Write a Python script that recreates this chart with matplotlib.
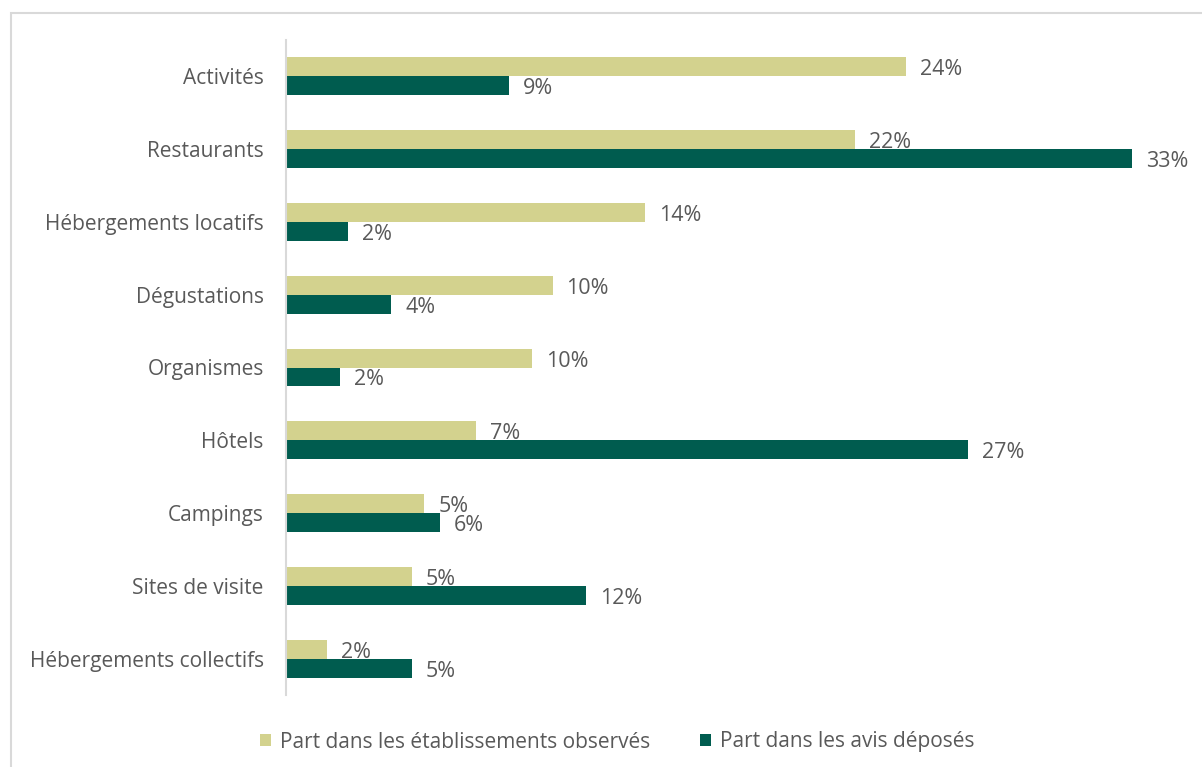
import matplotlib
matplotlib.use("Agg")
import matplotlib.pyplot as plt
from matplotlib.patches import Rectangle
import numpy as np

categories = ["Activités", "Restaurants", "Hébergements locatifs", "Dégustations",
              "Organismes", "Hôtels", "Campings", "Sites de visite",
              "Hébergements collectifs"]
part_etab = [24.2, 22.2, 14.0, 10.4, 9.6, 7.4, 5.4, 4.9, 1.6]
part_avis = [8.7, 33.0, 2.4, 4.1, 2.1, 26.6, 6.0, 11.7, 4.9]
series_names = ["Part dans les établissements observés", "Part dans les avis déposés"]
colors = ["#d3d28e", "#005c4f"]

plt.rcParams['font.family'] = ['Open Sans', 'DejaVu Sans']
text_color = "#595959"

W, H = 1202, 767
fig = plt.figure(figsize=(W / 100, H / 100), dpi=100)
# outer frame
fig.patches.append(Rectangle((11 / W, -0.05), 1.2, 1 - 13 / H + 0.05,
                             transform=fig.transFigure, fill=False,
                             edgecolor="#d9d9d9", linewidth=1.5))

ax = fig.add_axes([286 / W, 1 - 695 / H, (1183 - 286) / W, (695 - 40) / H])
y = np.arange(len(categories))
h = 0.26
b1 = ax.barh(y - h / 2, part_etab, height=h, color=colors[0], label=series_names[0])
b2 = ax.barh(y + h / 2, part_avis, height=h, color=colors[1], label=series_names[1])

for bars, vals in ((b1, part_etab), (b2, part_avis)):
    for rect, v in zip(bars, vals):
        ax.annotate(f"{v:.0f}%", (rect.get_width(), rect.get_y() + rect.get_height() / 2),
                    xytext=(14, -3), textcoords="offset pixels",
                    va="center", ha="left", fontsize=15.5, color=text_color)

ax.set_xlim(0, 35)
ax.set_ylim(len(categories) - 0.5, -0.5)
ax.set_yticks(y)
ax.set_yticklabels(categories, fontsize=15, color=text_color)
ax.tick_params(axis="y", length=0, pad=16)
ax.set_xticks([])
for s in ["top", "right", "bottom"]:
    ax.spines[s].set_visible(False)
ax.spines["left"].set_color("#d9d9d9")
ax.spines["left"].set_linewidth(1.5)

leg = fig.legend(handles=[b1, b2], labels=series_names, loc="center",
                 bbox_to_anchor=(617 / W, 1 - 742 / H), ncol=2, frameon=False,
                 fontsize=15, handlelength=0.55, handleheight=0.55,
                 handletextpad=0.4, columnspacing=2.4)
for t in leg.get_texts():
    t.set_color(text_color)

fig.savefig("out.png", dpi=100)
